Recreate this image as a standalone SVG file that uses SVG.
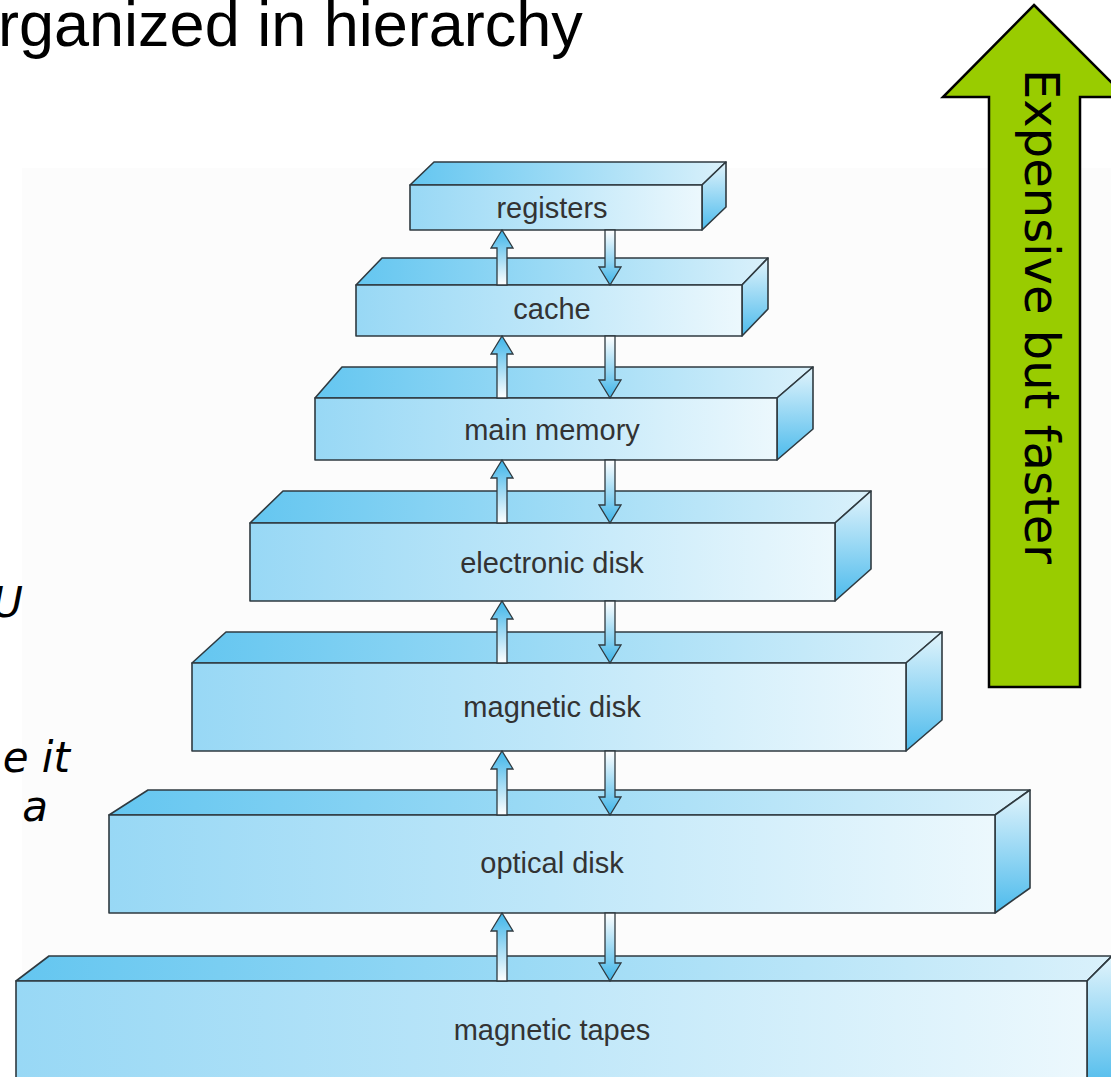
<svg xmlns="http://www.w3.org/2000/svg" width="1111" height="1077" viewBox="0 0 1111 1077">
<defs>
<linearGradient id="gFront" x1="0" y1="0" x2="1" y2="0">
<stop offset="0" stop-color="#98d8f5"/>
<stop offset="0.5" stop-color="#bfe7f9"/>
<stop offset="1" stop-color="#ecf8fd"/>
</linearGradient>
<linearGradient id="gTop" x1="0" y1="0" x2="1" y2="0">
<stop offset="0" stop-color="#64c6f0"/>
<stop offset="1" stop-color="#daf1fb"/>
</linearGradient>
<linearGradient id="gSide" x1="0" y1="0" x2="0" y2="1">
<stop offset="0" stop-color="#e2f4fc"/>
<stop offset="1" stop-color="#4dbbec"/>
</linearGradient>
<linearGradient id="gUp" x1="0" y1="0" x2="0" y2="1">
<stop offset="0" stop-color="#3fb5e9"/>
<stop offset="1" stop-color="#ffffff"/>
</linearGradient>
<linearGradient id="gDown" x1="0" y1="0" x2="0" y2="1">
<stop offset="0" stop-color="#ffffff"/>
<stop offset="1" stop-color="#3fb5e9"/>
</linearGradient>
</defs>
<style>
.edge{stroke:#2f3a40;stroke-width:1.6;stroke-linejoin:round}
.front{fill:url(#gFront)}
.top{fill:url(#gTop)}
.side{fill:url(#gSide)}
.lbl{font-family:"Liberation Sans",Arial,sans-serif;font-size:29px;fill:#333;text-anchor:middle}
.up{fill:url(#gUp);stroke:#2f3a40;stroke-width:1.3;stroke-linejoin:miter}
.down{fill:url(#gDown);stroke:#2f3a40;stroke-width:1.3;stroke-linejoin:miter}
.ital{font-family:"DejaVu Sans",Verdana,sans-serif;font-style:italic;font-size:42px;fill:#000;text-anchor:end}
</style>
<rect x="0" y="0" width="1111" height="1077" fill="#ffffff"/>
<rect x="22" y="168" width="1089" height="909" fill="#fcfcfc"/>

<text x="-2" y="46" font-family="Liberation Sans, Arial, sans-serif" font-size="63" fill="#000">rganized in hierarchy</text>

<text class="ital" x="23" y="617">U</text>
<text class="ital" x="70" y="772">e it</text>
<text class="ital" x="48" y="821">a</text>

<g id="registers">
<polygon class="top edge" points="410,185 434,162 726,162 702,185"/>
<polygon class="side edge" points="702,185 726,162 726,207 702,230"/>
<rect class="front edge" x="410" y="185" width="292" height="45"/>
<text class="lbl" x="552" y="218">registers</text>
</g>
<g id="cache">
<polygon class="top edge" points="356,285 382,258 768,258 742,285"/>
<polygon class="side edge" points="742,285 768,258 768,309 742,336"/>
<rect class="front edge" x="356" y="285" width="386" height="51"/>
<text class="lbl" x="552" y="319">cache</text>
</g>
<g id="main-memory">
<polygon class="top edge" points="315,398 342,367 813,367 777,398"/>
<polygon class="side edge" points="777,398 813,367 813,429 777,460"/>
<rect class="front edge" x="315" y="398" width="462" height="62"/>
<text class="lbl" x="552" y="440">main memory</text>
</g>
<g id="electronic-disk">
<polygon class="top edge" points="250,523 283,491 871,491 835,523"/>
<polygon class="side edge" points="835,523 871,491 871,569 835,601"/>
<rect class="front edge" x="250" y="523" width="585" height="78"/>
<text class="lbl" x="552" y="573">electronic disk</text>
</g>
<g id="magnetic-disk">
<polygon class="top edge" points="192,663 226,632 942,632 906,663"/>
<polygon class="side edge" points="906,663 942,632 942,720 906,751"/>
<rect class="front edge" x="192" y="663" width="714" height="88"/>
<text class="lbl" x="552" y="717">magnetic disk</text>
</g>
<g id="optical-disk">
<polygon class="top edge" points="109,815 148,790 1030,790 995,815"/>
<polygon class="side edge" points="995,815 1030,790 1030,888 995,913"/>
<rect class="front edge" x="109" y="815" width="886" height="98"/>
<text class="lbl" x="552" y="873">optical disk</text>
</g>
<g id="magnetic-tapes">
<polygon class="top edge" points="16,981 49,956 1112,956 1087,981"/>
<polygon class="side edge" points="1087,981 1112,956 1112,1080 1087,1090"/>
<rect class="front edge" x="16" y="981" width="1071" height="110"/>
<text class="lbl" x="552" y="1040">magnetic tapes</text>
</g>

<g id="connectors">
<path class="up" d="M497,285 L497,248 L491,248 L502,230 L513,248 L507,248 L507,285 Z"/>
<path class="down" d="M605,230 L615,230 L615,267 L621,267 L610,285 L599,267 L605,267 Z"/>
<path class="up" d="M497,398 L497,354 L491,354 L502,336 L513,354 L507,354 L507,398 Z"/>
<path class="down" d="M605,336 L615,336 L615,380 L621,380 L610,398 L599,380 L605,380 Z"/>
<path class="up" d="M497,523 L497,478 L491,478 L502,460 L513,478 L507,478 L507,523 Z"/>
<path class="down" d="M605,460 L615,460 L615,505 L621,505 L610,523 L599,505 L605,505 Z"/>
<path class="up" d="M497,663 L497,619 L491,619 L502,601 L513,619 L507,619 L507,663 Z"/>
<path class="down" d="M605,601 L615,601 L615,645 L621,645 L610,663 L599,645 L605,645 Z"/>
<path class="up" d="M497,815 L497,769 L491,769 L502,751 L513,769 L507,769 L507,815 Z"/>
<path class="down" d="M605,751 L615,751 L615,797 L621,797 L610,815 L599,797 L605,797 Z"/>
<path class="up" d="M497,981 L497,931 L491,931 L502,913 L513,931 L507,931 L507,981 Z"/>
<path class="down" d="M605,913 L615,913 L615,963 L621,963 L610,981 L599,963 L605,963 Z"/>
</g>

<g id="expensive-arrow">
<polygon points="1034,5 1126,97 1080,97 1080,687 989,687 989,97 943,97" fill="#99cc00" stroke="#000" stroke-width="2.5" stroke-linejoin="miter"/>
<text transform="translate(1025,69) rotate(90)" x="0" y="0" font-family="DejaVu Sans, Verdana, sans-serif" font-size="48" fill="#000">Expensive but faster</text>
</g>
</svg>
